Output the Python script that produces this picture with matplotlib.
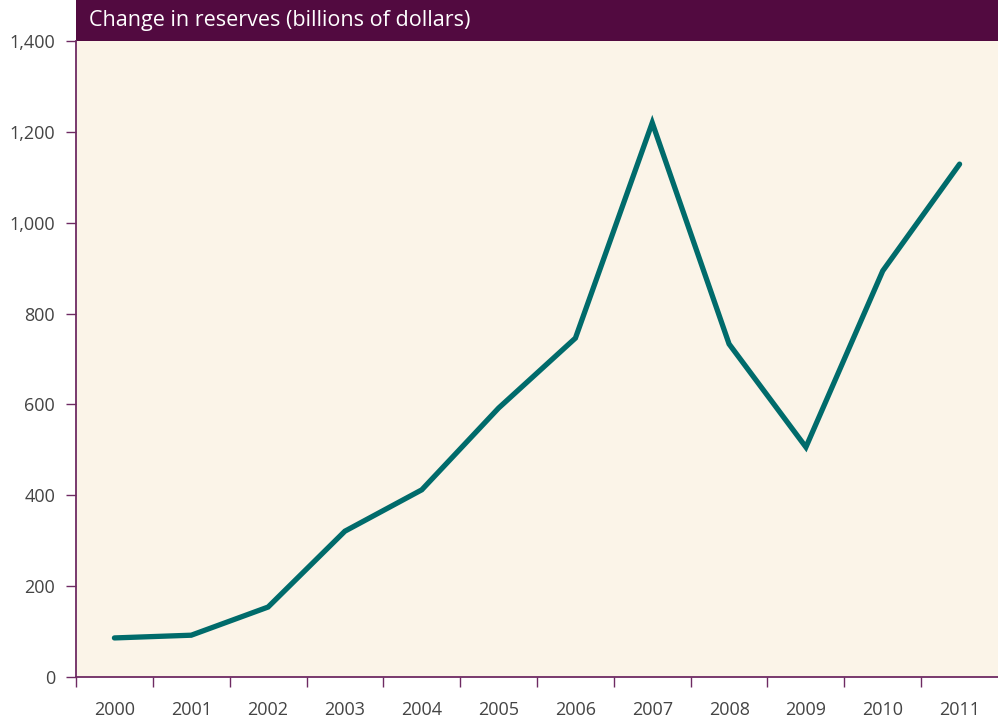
import matplotlib.pyplot as plt
from matplotlib.patches import Rectangle
import numpy as np

years = ["2000", "2001", "2002", "2003", "2004", "2005",
         "2006", "2007", "2008", "2009", "2010", "2011"]
reserves = [86, 92, 154, 321, 412, 592, 746, 1220, 733, 506, 894, 1129]
yticks = [0, 200, 400, 600, 800, 1000, 1200, 1400]

purple = "#520a40"
axis_col = "#6e2a62"
bg = "#fbf4e8"
teal = "#006b6b"
label_col = "#444444"

plt.rcParams['font.family'] = ['Open Sans', 'DejaVu Sans']

fig = plt.figure(figsize=(9.98, 7.21), dpi=100)
ax = fig.add_axes([76 / 998, 44 / 721, 1 - 76 / 998, 636 / 721])
ax.set_facecolor(bg)

x = np.arange(len(years))
ax.plot(x, reserves, color=teal, lw=3.8, solid_capstyle="round",
        solid_joinstyle="miter", zorder=3)

ax.set_xlim(-0.5, len(years) - 0.5)
ax.set_ylim(0, 1400)

# y axis
ax.set_yticks(yticks)
ax.set_yticklabels([f"{v:,}" for v in yticks])
ax.tick_params(axis="y", length=7, width=1, color=axis_col, pad=8,
               labelsize=13, labelcolor=label_col)

# x axis: labels centred, tick marks between categories
ax.set_xticks(x)
ax.set_xticklabels(years)
ax.set_xticks(np.arange(-0.5, len(years) - 0.5, 1), minor=True)
ax.tick_params(axis="x", which="major", length=0, pad=17,
               labelsize=13, labelcolor=label_col)
ax.tick_params(axis="x", which="minor", length=7, width=1,
               color=axis_col, direction="out")

for s in ["top", "right"]:
    ax.spines[s].set_visible(False)
for s in ["left", "bottom"]:
    ax.spines[s].set_color(axis_col)
    ax.spines[s].set_linewidth(1.3)

# header band
band_h = 41 / 636
ax.add_patch(Rectangle((0, 1), 1, band_h, transform=ax.transAxes,
                       facecolor=purple, edgecolor="none", clip_on=False))
ax.text(13 / 922, 1 + band_h / 2, "Change in reserves (billions of dollars)",
        transform=ax.transAxes, color="white", fontsize=15.5,
        va="center", ha="left")

fig.savefig("out.png", dpi=100, facecolor="white")
